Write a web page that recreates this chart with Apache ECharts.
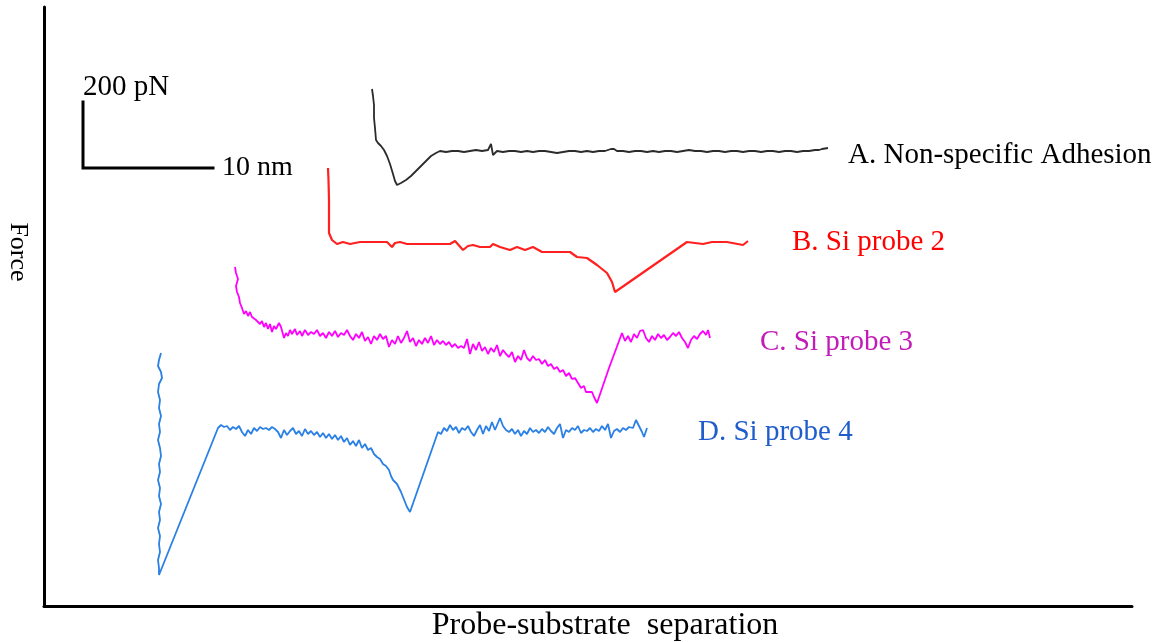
<!DOCTYPE html>
<html>
<head>
<meta charset="utf-8">
<script src="https://cdn.jsdelivr.net/npm/echarts@6/dist/echarts.min.js"></script>
<style>
html,body{margin:0;padding:0;background:#fff;}
#chart{width:1160px;height:642px;}
</style>
</head>
<body>
<div id="chart"></div>
<script>
// Axis extent (arbitrary units: separation along x, force along y)
var xMax = 1088;
var yMax = 599;

// Scale bar: 10 nm horizontal, 200 pN vertical
var scaleBar = [[39,504],[39,438],[169,438]];
var scaleLabels = ['200 pN', '10 nm'];

var seriesNames = ['A. Non-specific Adhesion', 'B. Si probe 2', 'C. Si probe 3', 'D. Si probe 4'];

var curveA = [
[328,517],[329,510],[330,501],[330,488],[331,478],[332,466],[334,463],[337,460],[340,456],[343,450],
[346,442],[349,432],[351,425],[353,421],[357,423],[362,426],[367,430],[372,435],[377,440],[382,445],
[387,450],[392,453],[396,455],[402,454],[408,455],[414,455],[420,454],[426,455],[432,456],[438,455],
[444,456],[447,462],[449,451],[453,455],[459,454],[465,455],[471,455],[477,454],[483,455],[489,454],
[495,455],[501,455],[507,454],[513,453],[519,454],[525,455],[531,455],[537,454],[543,455],[549,454],
[555,455],[561,455],[567,457],[570,457],[573,455],[579,455],[585,454],[591,455],[597,455],[603,454],
[609,455],[615,454],[621,455],[627,455],[633,454],[639,455],[645,456],[651,455],[657,455],[663,454],
[669,455],[675,455],[681,454],[687,455],[693,455],[699,454],[705,455],[711,455],[717,454],[723,455],
[729,455],[735,454],[741,455],[747,455],[753,454],[759,455],[765,455],[771,456],[775,456],[778,457],[784,458]
];

var curveB = [
[284,438],[284.5,426],[285,406],[285,373],[288,366],[293,362],[299,364],[306,362],[316,364],[326,364],
[343,364],[348,359],[351,363],[356,364],[363,362],[386,362],[406,362],[411,365],[419,356],[424,360],
[429,361],[436,359],[446,359],[449,362],[456,359],[466,356],[473,359],[481,356],[489,359],[498,354],
[526,354],[533,349],[543,348],[553,341],[563,333],[568,324],[571,314],[643,364],[659,362],[668,364],
[683,364],[699,361],[704,365]
];

var curveC = [
[191,339],[192,333],[194,327],[192,320],[193,314],[195,309],[196,303],[198,298],[200,292],[202,295],
[204,290],[206,294],[208,289],[210,291],[212,286],[214,288],[216,282],[218,285],[220,279],[222,283],
[224,277],[226,282],[228,274],[230,280],[232,277],[235,283],[237,279],[240,268],[242,273],[244,270],
[246,276],[248,272],[251,277],[253,271],[256,275],[258,270],[261,276],[264,271],[267,274],[270,272],
[273,276],[276,270],[279,273],[282,268],[285,274],[288,270],[291,275],[294,269],[297,273],[300,271],
[303,276],[306,270],[309,266],[312,272],[315,268],[318,274],[321,265],[324,269],[327,262],[330,270],
[333,266],[336,272],[339,267],[342,270],[345,259],[348,266],[351,262],[354,270],[357,263],[360,268],
[363,275],[366,264],[369,268],[372,260],[375,266],[378,262],[381,268],[384,263],[387,270],[390,261],
[393,266],[396,262],[399,265],[402,261],[405,264],[408,259],[411,262],[414,258],[417,260],[420,258],
[423,267],[426,252],[429,262],[432,256],[435,264],[438,255],[441,259],[444,252],[447,258],[450,254],
[453,261],[456,250],[459,256],[462,252],[465,249],[468,254],[471,244],[474,250],[477,246],[480,256],
[483,248],[486,245],[489,250],[492,246],[495,247],[498,242],[501,246],[504,240],[507,242],[510,237],
[513,239],[516,234],[519,236],[522,230],[525,233],[528,227],[531,228],[534,223],[537,218],[540,220],
[542,214],[545,214],[548,214],[550,209],[553,203],[565,238],[578,273],[581,265],[584,270],[587,264],
[590,272],[593,268],[596,275],[599,276],[602,268],[605,264],[608,270],[611,266],[614,272],[617,268],
[620,271],[623,266],[626,269],[629,273],[632,270],[635,274],[638,268],[641,264],[644,258],[647,266],
[650,270],[653,267],[656,272],[659,275],[662,271],[664,276],[666,268]
];

var curveD = [
[117,253],[115,246],[114,240],[117,234],[118,228],[115,222],[114,214],[116,206],[115,198],[117,190],
[115,182],[116,174],[114,166],[116,158],[117,150],[115,142],[116,134],[114,126],[116,118],[115,110],
[117,102],[115,94],[116,86],[114,78],[116,70],[115,62],[116,54],[114,46],[115,38],[115,31],
[174,178],[177,181],[180,179],[183,180],[186,176],[189,179],[192,177],[195,180],[198,174],[201,170],
[204,176],[207,172],[210,178],[213,175],[216,179],[219,177],[222,178],[225,176],[228,179],[231,177],
[234,174],[237,168],[240,176],[243,171],[246,175],[249,178],[252,172],[255,175],[258,170],[261,177],
[264,172],[267,175],[270,171],[273,174],[276,169],[279,173],[282,168],[285,172],[288,167],[291,171],
[294,166],[297,170],[300,164],[303,168],[306,161],[309,165],[312,160],[315,166],[318,158],[321,162],
[324,156],[327,158],[330,152],[333,149],[336,147],[339,142],[342,140],[345,136],[347,130],[349,126],
[351,128],[353,122],[355,120],[357,114],[359,109],[361,104],[363,99],[365,97],[366,94],
[394,174],[397,172],[400,178],[403,175],[406,181],[409,176],[412,179],[415,173],[418,178],[421,176],
[424,180],[427,174],[430,170],[433,176],[436,181],[439,172],[442,180],[445,175],[448,184],[451,176],
[453,178],[456,188],[459,180],[462,176],[465,174],[468,177],[471,172],[474,176],[477,170],[480,175],
[483,172],[486,178],[489,174],[492,176],[495,173],[498,177],[501,174],[504,179],[507,175],[510,172],
[513,178],[516,182],[519,168],[522,176],[525,174],[528,178],[531,176],[534,180],[537,173],[540,176],
[543,175],[546,178],[549,174],[552,177],[555,175],[558,180],[561,176],[564,182],[567,168],[570,175],
[573,177],[576,174],[579,178],[582,176],[585,179],[589,178],[592,186],[595,180],[598,174],[600,169],[603,178]
];

var lineColors = ['#2b2b2b', '#ff2020', '#ff00ff', '#2a80e6'];
var labelColors = ['#000000', '#ff0000', '#c21cb8', '#1f5ccc'];
var lineWidths = [1.8, 2.2, 1.8, 1.8];
var curves = [curveA, curveB, curveC, curveD];

var FONT = '"Liberation Serif", "Times New Roman", serif';

var chart = echarts.init(document.getElementById('chart'), null, {renderer: 'canvas'});

var series = curves.map(function (c, i) {
  return {
    name: seriesNames[i],
    type: 'line',
    data: c,
    showSymbol: false,
    symbol: 'none',
    silent: true,
    lineStyle: {color: lineColors[i], width: lineWidths[i]},
    z: 3
  };
});
series.push({
  name: 'scale',
  type: 'line',
  data: scaleBar,
  showSymbol: false,
  symbol: 'none',
  silent: true,
  lineStyle: {color: '#000', width: 3, cap: 'square', join: 'miter'},
  z: 4
});

var labelPos = [[848,155.5],[792,242],[760,342],[698,432]];
var textEls = labelPos.map(function (p, i) {
  return {
    type: 'text', x: p[0], y: p[1], silent: true,
    style: {text: seriesNames[i], fill: labelColors[i], font: '29px ' + FONT, align: 'left', verticalAlign: 'middle'}
  };
});
textEls.push({type: 'text', x: 83, y: 87, silent: true,
  style: {text: scaleLabels[0], fill: '#000', font: '29px ' + FONT, align: 'left', verticalAlign: 'middle'}});
textEls.push({type: 'text', x: 222, y: 168, silent: true,
  style: {text: scaleLabels[1], fill: '#000', font: '28px ' + FONT, align: 'left', verticalAlign: 'middle'}});
textEls.push({type: 'text', x: 18, y: 252, rotation: -Math.PI / 2, silent: true,
  style: {text: 'Force', fill: '#000', font: '26px ' + FONT, align: 'center', verticalAlign: 'middle'}});
textEls.push({type: 'text', x: 605, y: 626, silent: true,
  style: {text: 'Probe-substrate  separation', fill: '#000', font: '32px ' + FONT, align: 'center', verticalAlign: 'middle'}});

chart.setOption({
  animation: false,
  backgroundColor: '#fff',
  grid: {left: 44, right: 28, top: 7, bottom: 36, containLabel: false},
  xAxis: {
    type: 'value', min: 0, max: xMax,
    axisLine: {show: true, lineStyle: {color: '#000', width: 3}},
    axisTick: {show: false}, axisLabel: {show: false}, splitLine: {show: false}
  },
  yAxis: {
    type: 'value', min: 0, max: yMax,
    axisLine: {show: true, lineStyle: {color: '#000', width: 3}},
    axisTick: {show: false}, axisLabel: {show: false}, splitLine: {show: false}
  },
  series: series,
  graphic: textEls
});
</script>
</body>
</html>
